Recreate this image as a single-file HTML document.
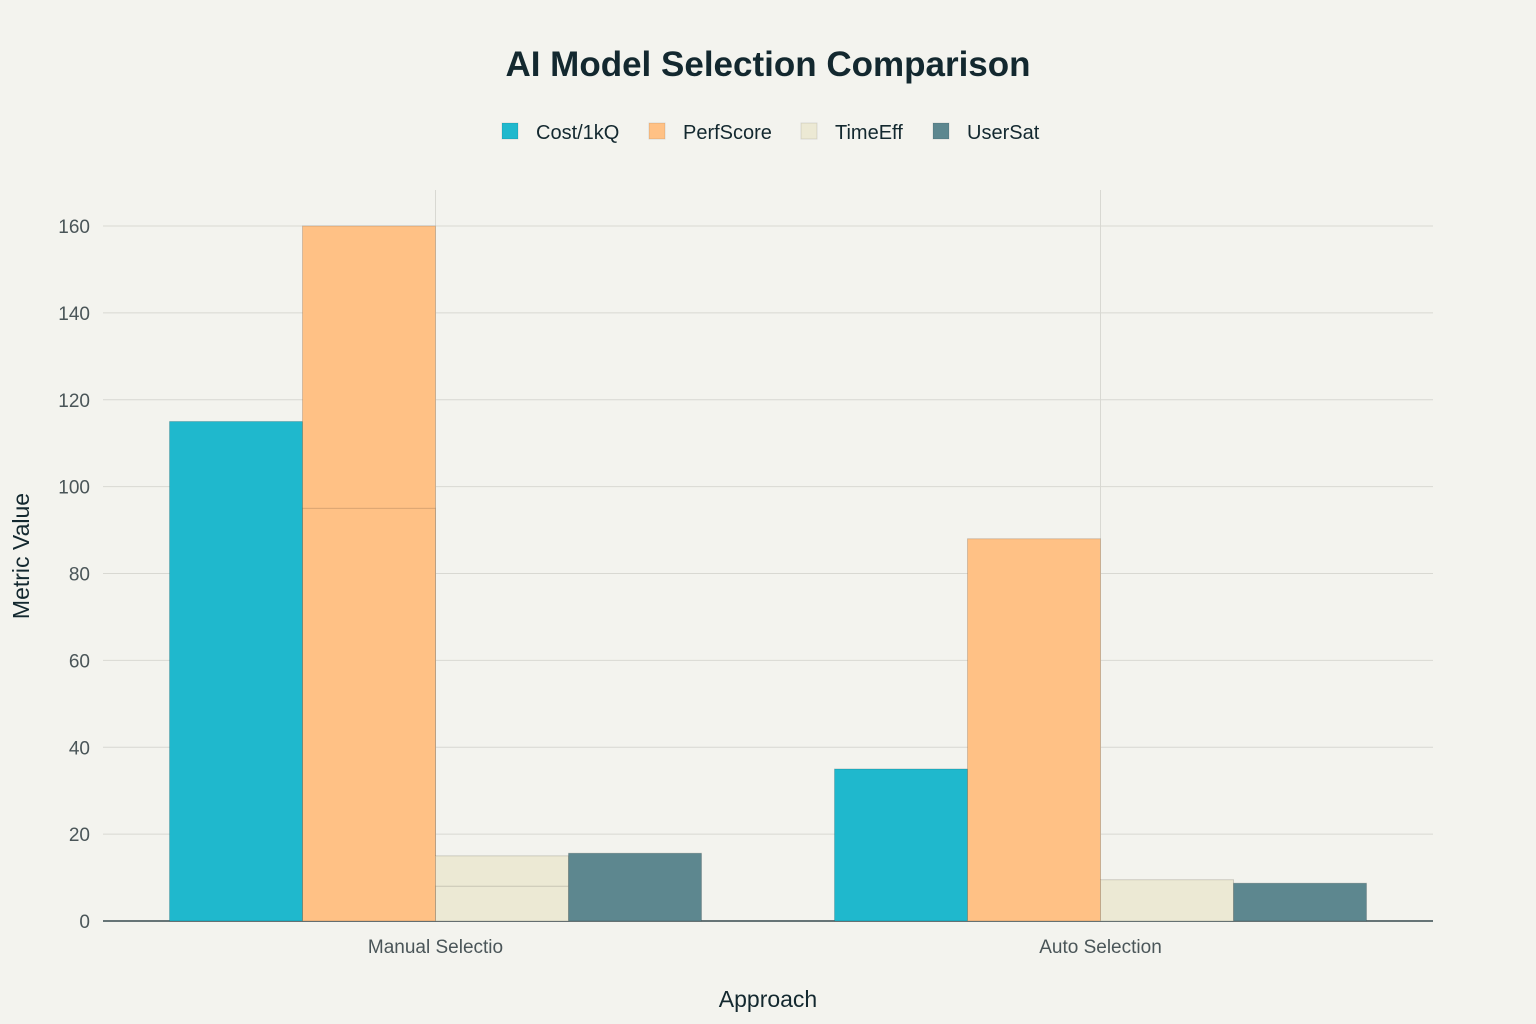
<!DOCTYPE html>
<html><head><meta charset="utf-8"><style>
body{margin:0;background:#f3f3ee;font-family:"Liberation Sans",sans-serif;}
svg{display:block}
</style></head><body>
<svg id="chart" width="1536" height="1024" xmlns="http://www.w3.org/2000/svg">
<rect width="1536" height="1024" fill="#f3f3ee"/>
<text x="768" y="76" text-anchor="middle" font-size="35" font-weight="bold" fill="#13282f">AI Model Selection Comparison</text>
<g id="legend"></g>
<g id="grid"></g>
<g id="bars"></g>
<g id="axes"></g>
<text x="768" y="1007" text-anchor="middle" font-size="23" fill="#13282f">Approach</text>
<text transform="translate(29,556) rotate(-90)" text-anchor="middle" font-size="23" fill="#13282f">Metric Value</text>
</svg>
<script>
const categories = ["Manual Selectio", "Auto Selection"];
const seriesNames = ["Cost/1kQ", "PerfScore", "TimeEff", "UserSat"];
const seriesColors = ["#1fb8cd", "#ffc185", "#ece9d4", "#5d878f"];
const costValues = [115, 35];
const perfValues = [160, 88];
const timeValues = [15, 9.5];
const userValues = [15.6, 8.7];
// overlaid duplicate-category bars (manual row repeated)
const perfOverlay = [95, null];
const timeOverlay = [8, null];
const yTicks = [0, 20, 40, 60, 80, 100, 120, 140, 160];

const NS = "http://www.w3.org/2000/svg";
const L = 103, R = 1433, T = 190, B = 921;
const yMax = 160, yTop = 226;
const y = v => B - v * (B - yTop) / yMax;
const band = (R - L) / categories.length;
const xc = i => L + band * (i + 0.5);
const barW = band * 0.8 / seriesNames.length;
function el(tag, attrs, parent) { const e = document.createElementNS(NS, tag); for (const k in attrs) e.setAttribute(k, attrs[k]); parent.appendChild(e); return e; }

const grid = document.getElementById('grid');
yTicks.forEach(t => {
  const g = el('line', {x1: L, x2: R, y1: y(t), y2: y(t), stroke: t === 0 ? '#13282f' : '#d8d8d2', 'stroke-width': t === 0 ? 1.2 : 1}, grid);
  
  
  const tx = el('text', {x: 90, y: y(t) + 7, 'text-anchor': 'end', 'font-size': 19, fill: '#4a5558'}, document.getElementById('axes'));
  tx.textContent = t;
  
  
});
categories.forEach((c, i) => {
  const v = el('line', {x1: xc(i), x2: xc(i), y1: T, y2: B, stroke: '#d8d8d2', 'stroke-width': 1}, grid);
  
  
});

const all = [costValues, perfValues, timeValues, userValues];
const overlays = [null, perfOverlay, timeOverlay, null];
const bars = document.getElementById('bars');
categories.forEach((c, i) => {
  const x0 = xc(i) - barW * seriesNames.length / 2;
  all.forEach((vals, s) => {
    const r = el('rect', {x: x0 + s * barW, y: y(vals[i]), width: barW, height: B - y(vals[i]), fill: seriesColors[s], stroke: 'rgba(0,0,0,0.15)', 'stroke-width': 1}, bars);
    
    
    const ov = overlays[s];
    if (ov && ov[i] != null) {
      const o = el('rect', {x: x0 + s * barW, y: y(ov[i]), width: barW, height: B - y(ov[i]), fill: seriesColors[s], stroke: 'rgba(0,0,0,0.15)', 'stroke-width': 1}, bars);
      
      
    }
  });
  const lab = el('text', {x: xc(i), y: 953, 'text-anchor': 'middle', 'font-size': 19, fill: '#4a5558'}, document.getElementById('axes'));
  lab.textContent = c;
  
  
});

const legend = document.getElementById('legend');
const legX = [502, 649, 801, 933];
seriesNames.forEach((n, s) => {
  const g = el('g', {}, legend);
  
  
  el('rect', {x: legX[s], y: 123, width: 16, height: 16, fill: seriesColors[s], stroke: 'rgba(0,0,0,0.1)'}, g);
  const t = el('text', {x: legX[s] + 34, y: 139, 'font-size': 20, fill: '#13282f'}, g);
  t.textContent = n;
});
</script>
</body></html>
